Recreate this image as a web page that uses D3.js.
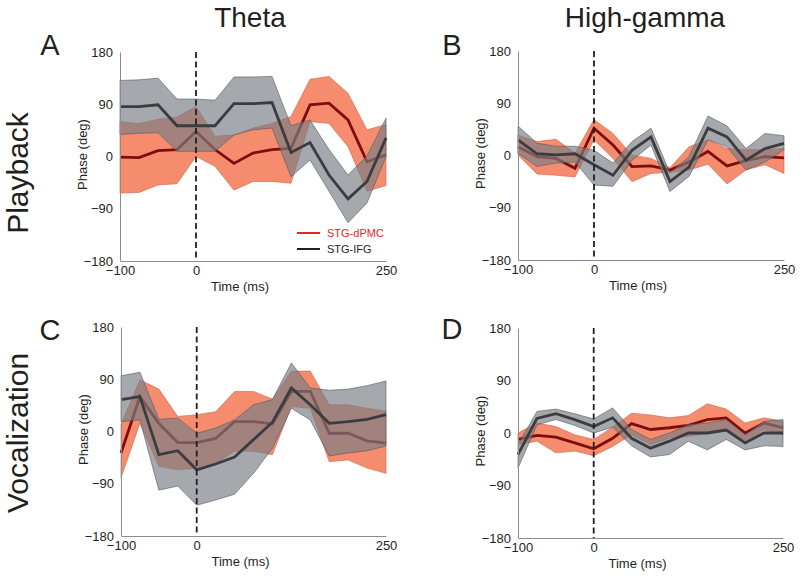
<!DOCTYPE html>
<html><head><meta charset="utf-8">
<script src="https://cdn.jsdelivr.net/npm/d3@7"></script>
<style>body{margin:0;background:#fff}text{font-family:"Liberation Sans",Arial,sans-serif}</style>
</head><body>
<svg id="chart" width="800" height="581"></svg>
<script>
// ---------------- data ----------------
const times = [-100,-75,-50,-25,0,25,50,75,100,125,150,175,200,225,250];
const xTicks = [-100,0,250];
const yTicks = [-180,-90,0,90,180];
const colTitles = ["Theta","High-gamma"];
const rowTitles = ["Playback","Vocalization"];
const panelLetters = ["A","B","C","D"];
const seriesNames = ["STG-dPMC","STG-IFG"];

// Panel A: Theta / Playback
const A_dPMC_mean  = [-1,-2,10,12,43,12,-12,6,12,14,89,92,63,-9,3];
const A_dPMC_upper = [60,57,64,68,86,35,37,49,57,69,133,138,109,46,55];
const A_dPMC_lower = [-63,-62,-49,-47,0,-17,-58,-43,-43,-46,60,57,17,-60,-50];
const A_IFG_mean   = [86,86,89,53,53,53,91,91,93,7,24,-32,-73,-43,32];
const A_IFG_upper  = [131,132,135,99,99,97,137,137,138,53,63,12,-32,1,66];
const A_IFG_lower  = [38,40,41,9,9,9,37,46,49,-35,-6,-60,-114,-80,0];

// Panel B: High-gamma / Playback
const B_dPMC_mean  = [15,-2,-5,-22,47,18,-19,-18,-25,-11,7,-18,-9,-2,-4];
const B_dPMC_upper = [35,24,28,4,62,38,1,-5,-21,15,27,12,10,10,12];
const B_dPMC_lower = [1,-32,-34,-37,27,-5,-45,-31,-29,-25,-15,-49,-25,-16,-31];
const B_IFG_mean   = [27,3,1,3,-16,-34,9,32,-45,-20,47,32,-8,12,21];
const B_IFG_upper  = [51,21,16,16,9,-13,24,47,-30,-2,68,51,12,38,34];
const B_IFG_lower  = [4,-19,-13,-11,-51,-53,-8,18,-62,-36,27,15,-25,-11,10];

// Panel C: Theta / Vocalization
const C_dPMC_mean  = [-37,60,14,-19,-19,-12,17,17,13,69,69,-3,-3,-16,-20];
const C_dPMC_upper = [12,89,73,26,29,34,69,69,56,104,104,46,46,40,35];
const C_dPMC_lower = [-80,14,-60,-66,-63,-55,-34,-34,-40,43,40,-52,-49,-63,-72];
const C_IFG_mean   = [55,60,-40,-33,-66,-56,-44,-14,16,75,46,14,17,21,29];
const C_IFG_upper  = [96,102,21,23,-3,6,20,46,55,118,75,71,73,79,87];
const C_IFG_lower  = [17,20,-101,-94,-127,-118,-108,-72,-29,40,20,-42,-37,-33,-25];

// Panel D: High-gamma / Vocalization
const D_dPMC_mean  = [-11,-4,-7,-17,-27,-9,16,6,9,13,23,26,0,17,9];
const D_dPMC_upper = [0,17,11,-3,-11,10,34,31,26,30,50,41,17,26,20];
const D_dPMC_lower = [-20,-14,-34,-31,-39,-23,-3,-20,-9,-6,0,9,-16,6,-3];
const D_IFG_mean   = [-37,25,33,23,11,26,-9,-26,-14,0,0,5,-17,0,0];
const D_IFG_upper  = [-20,37,41,33,24,43,6,-11,0,14,17,23,-3,20,23];
const D_IFG_lower  = [-60,14,23,13,0,10,-22,-41,-37,-14,-29,-11,-29,-22,-23];

const panelData = [
  {dPMC:[A_dPMC_mean,A_dPMC_upper,A_dPMC_lower], IFG:[A_IFG_mean,A_IFG_upper,A_IFG_lower]},
  {dPMC:[B_dPMC_mean,B_dPMC_upper,B_dPMC_lower], IFG:[B_IFG_mean,B_IFG_upper,B_IFG_lower]},
  {dPMC:[C_dPMC_mean,C_dPMC_upper,C_dPMC_lower], IFG:[C_IFG_mean,C_IFG_upper,C_IFG_lower]},
  {dPMC:[D_dPMC_mean,D_dPMC_upper,D_dPMC_lower], IFG:[D_IFG_mean,D_IFG_upper,D_IFG_lower]}
];

// ---------------- layout ----------------
const boxes = [
  {x0:120, x1:386, y0:52,  y1:261, lx:50,  ly:55},
  {x0:518, x1:784, y0:51,  y1:260, lx:452, ly:55},
  {x0:121, x1:386, y0:327, y1:536, lx:50,  ly:340},
  {x0:518, x1:783, y0:328, y1:538, lx:452, ly:339}
];
const svg = d3.select("#chart");
const minusFmt = d => (d < 0 ? "\u2212" + Math.abs(d) : String(d));

const redFill = "#f58c6e", redEdge = "#c9634a", redLine = "#7f0d0d";
const grayFill = "#797d83", grayEdge = "#55585c", grayLine = "#3b3c40";

boxes.forEach((b, i) => {
  const d = panelData[i];
  const x = d3.scaleLinear().domain([-100,250]).range([b.x0,b.x1]);
  const y = d3.scaleLinear().domain([-180,180]).range([b.y1,b.y0]);
  const g = svg.append("g");

  const rows = times.map((t,k) => ({t,
    rm:d.dPMC[0][k], ru:d.dPMC[1][k], rl:d.dPMC[2][k],
    gm:d.IFG[0][k],  gu:d.IFG[1][k],  gl:d.IFG[2][k]}));

  const area = (u,l) => d3.area().x(r=>x(r.t)).y0(r=>y(r[l])).y1(r=>y(r[u]));
  const line = k => d3.line().x(r=>x(r.t)).y(r=>y(r[k]));

  // red band + line
  g.append("path").attr("d", area("ru","rl")(rows))
    .attr("fill", redFill).attr("stroke", redEdge).attr("stroke-width", 0.6);
  g.append("path").attr("d", line("rm")(rows))
    .attr("fill","none").attr("stroke", redLine).attr("stroke-width", 2.8).attr("stroke-linejoin","miter");
  // gray band (semi-transparent) + line
  g.append("path").attr("d", area("gu","gl")(rows))
    .attr("fill", grayFill).attr("fill-opacity", 0.67)
    .attr("stroke", grayEdge).attr("stroke-width", 0.6);
  g.append("path").attr("d", line("gm")(rows))
    .attr("fill","none").attr("stroke", grayLine).attr("stroke-width", 2.8).attr("stroke-linejoin","miter");

  // dashed zero line
  g.append("line").attr("x1", x(0)).attr("x2", x(0)).attr("y1", y(180)).attr("y2", y(-180))
    .attr("stroke", "#231f20").attr("stroke-width", 1.8).attr("stroke-dasharray", "6,3.5");

  // axes
  const ax = g.append("g").attr("transform", `translate(0,${b.y1})`)
    .call(d3.axisBottom(x).tickValues(xTicks).tickSize(0).tickPadding(5).tickFormat(minusFmt));
  const ay = g.append("g").attr("transform", `translate(${b.x0},0)`)
    .call(d3.axisLeft(y).tickValues(yTicks).tickSize(0).tickPadding(7).tickFormat(minusFmt));
  [ax, ay].forEach(a => {
    a.select(".domain").attr("stroke", "#8c8c8c").attr("stroke-width", 1);
    a.selectAll("text").attr("font-size", 13).attr("fill", "#231f20")
      .attr("font-family", "'Liberation Sans', Arial, sans-serif");
  });

  // axis labels
  g.append("text").attr("x", (b.x0+b.x1)/2 - 13).attr("y", b.y1 + 30)
    .attr("text-anchor","middle").attr("font-size", 13).attr("fill","#231f20").text("Time (ms)");
  g.append("text").attr("transform", `translate(${b.x0-33},${(b.y0+b.y1)/2 - 2}) rotate(-90)`)
    .attr("text-anchor","middle").attr("font-size", 13).attr("fill","#231f20").text("Phase (deg)");

  // panel letter
  svg.append("text").attr("x", b.lx).attr("y", b.ly).attr("text-anchor","middle")
    .attr("font-size", 29).attr("fill","#231f20").text(panelLetters[i]);
});

// column titles
svg.append("text").attr("x", 250).attr("y", 27).attr("text-anchor","middle")
  .attr("font-size", 28).attr("fill","#231f20").text(colTitles[0]);
svg.append("text").attr("x", 645).attr("y", 27).attr("text-anchor","middle")
  .attr("font-size", 28).attr("fill","#231f20").text(colTitles[1]);
// row titles
svg.append("text").attr("transform","translate(28,173) rotate(-90)").attr("text-anchor","middle")
  .attr("font-size", 30).attr("fill","#231f20").text(rowTitles[0]);
svg.append("text").attr("transform","translate(28,433) rotate(-90)").attr("text-anchor","middle")
  .attr("font-size", 30).attr("fill","#231f20").text(rowTitles[1]);

// legend (panel A)
const legColors = ["#e8232a", "#231f20"];
const legTextColors = ["#e8232a", "#231f20"];
seriesNames.forEach((n, k) => {
  const ly = 233 + k*16;
  svg.append("line").attr("x1", 297).attr("x2", 320).attr("y1", ly).attr("y2", ly)
    .attr("stroke", legColors[k]).attr("stroke-width", 2);
  svg.append("text").attr("x", 327).attr("y", ly).attr("dy","0.35em")
    .attr("font-size", 11).attr("fill", legTextColors[k]).text(n);
});
</script>
</body></html>
